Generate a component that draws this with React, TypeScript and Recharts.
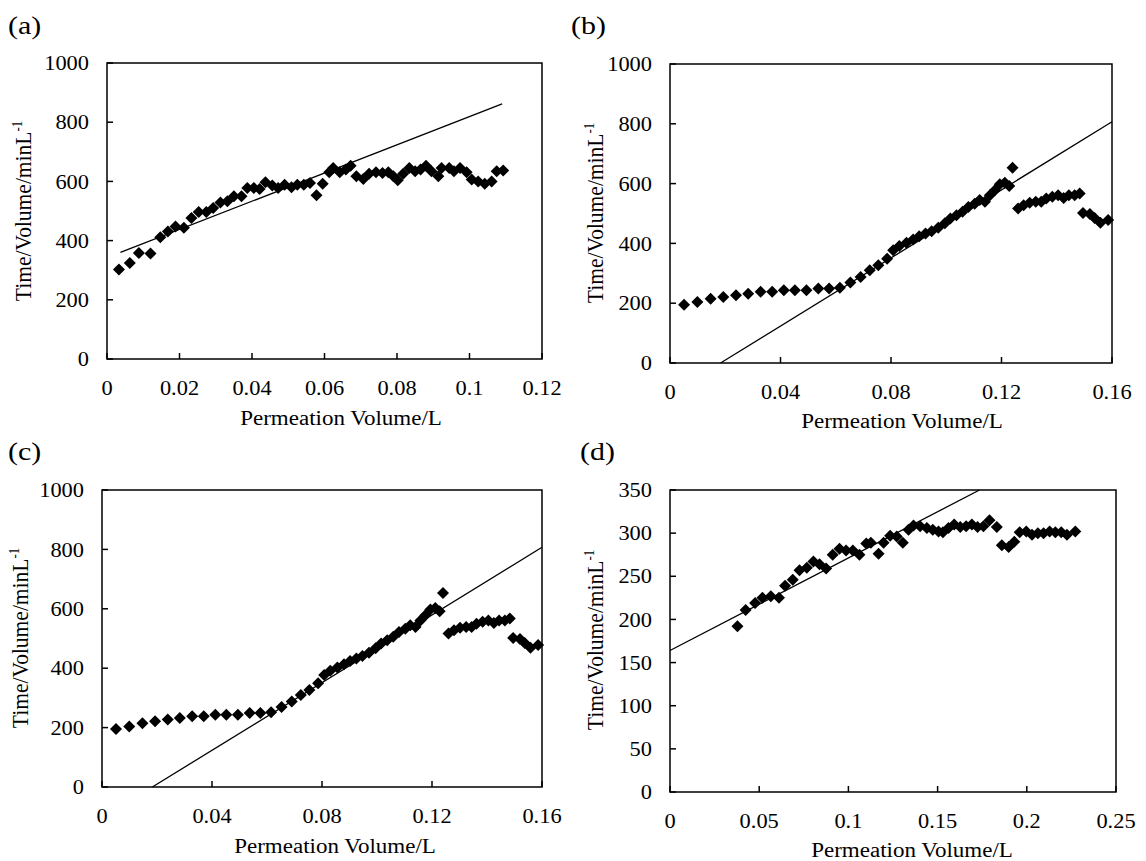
import React from 'react';
import {
  ScatterChart,
  Scatter,
  XAxis,
  YAxis,
  ReferenceLine,
  ReferenceArea,
} from 'recharts';

// panel (a)
const aVolume = [
  0.0033, 0.0063, 0.0088, 0.012, 0.0147, 0.0168, 0.0189, 0.0212, 0.0233, 0.0253,
  0.0274, 0.0293, 0.0313, 0.0332, 0.035, 0.0371, 0.0387, 0.0405, 0.0421, 0.0437,
  0.0456, 0.0472, 0.049, 0.0509, 0.0525, 0.0543, 0.056, 0.0578, 0.0595, 0.0613,
  0.0624, 0.0642, 0.0659, 0.0672, 0.0688, 0.0707, 0.0723, 0.0742, 0.076, 0.0776,
  0.079, 0.0802, 0.0817, 0.0834, 0.085, 0.0865, 0.088, 0.0895, 0.0914, 0.0923,
  0.0944, 0.0957, 0.0974, 0.0992, 0.1006, 0.1024, 0.1042, 0.1061, 0.1075, 0.1093,
];
const aRatio = [
  302, 324, 358, 356, 411, 431, 448, 443, 476, 497,
  497, 510, 529, 533, 550, 550, 578, 578, 574, 597,
  586, 578, 589, 580, 589, 589, 595, 553, 592, 631,
  645, 631, 640, 653, 617, 608, 626, 631, 628, 631,
  617, 604, 626, 645, 634, 640, 653, 634, 617, 645,
  645, 634, 645, 631, 606, 600, 592, 600, 634, 637,
];
const aTrendX = [0.0037, 0.109];
const aTrendY = [360, 862];

// panels (b) and (c) show the same run
const bVolume = [
  0.0051, 0.0099, 0.0147, 0.0193, 0.0239, 0.0283, 0.0328, 0.037, 0.0412, 0.0452,
  0.0494, 0.0537, 0.0576, 0.0615, 0.0653, 0.069, 0.0723, 0.0754, 0.0786, 0.0808,
  0.083, 0.0856, 0.088, 0.0902, 0.0925, 0.0947, 0.0971, 0.0995, 0.1015, 0.1037,
  0.1059, 0.108, 0.1103, 0.1121, 0.114, 0.1158, 0.1176, 0.1194, 0.1212, 0.1228,
  0.124, 0.126, 0.128, 0.1302, 0.1324, 0.1344, 0.1362, 0.1384, 0.1405, 0.1425,
  0.1444, 0.1465, 0.1483, 0.1495, 0.152, 0.1537, 0.1558, 0.1586,
];
const bRatio = [
  195, 204, 215, 221, 227, 232, 238, 238, 243, 243,
  243, 249, 249, 252, 269, 288, 310, 327, 349, 377,
  391, 402, 413, 424, 433, 441, 452, 467, 483, 494,
  506, 522, 533, 545, 539, 561, 578, 598, 603, 592,
  653, 517, 528, 536, 539, 539, 550, 556, 561, 552,
  561, 561, 567, 502, 498, 485, 469, 478,
];
const bTrendX = [0.0183, 0.16];
const bTrendY = [0, 807];

// panel (d)
const dVolume = [
  0.0378, 0.0424, 0.0477, 0.0518, 0.0565, 0.0611, 0.0645, 0.0688, 0.0726, 0.0767,
  0.0804, 0.0838, 0.0875, 0.0912, 0.095, 0.0987, 0.1025, 0.1062, 0.11, 0.1126,
  0.1169, 0.1197, 0.1234, 0.1271, 0.1305, 0.1337, 0.1365, 0.1402, 0.144, 0.1473,
  0.1505, 0.153, 0.1561, 0.1593, 0.1627, 0.166, 0.1692, 0.1724, 0.1757, 0.1791,
  0.1832, 0.186, 0.1898, 0.193, 0.196, 0.1997, 0.2029, 0.2062, 0.2094, 0.2128,
  0.216, 0.2193, 0.2225, 0.2272,
];
const dRatio = [
  192, 211, 219, 225, 227, 225, 239, 246, 257, 260,
  267, 264, 259, 275, 282, 280, 280, 275, 288, 289,
  276, 289, 297, 296, 289, 304, 309, 308, 306, 304,
  302, 301, 306, 310, 307, 308, 310, 307, 308, 315,
  307, 286, 284, 290, 301, 302, 298, 300, 300, 302,
  301, 301, 298, 302,
];
const dTrendX = [0, 0.1735];
const dTrendY = [164, 350];

const xTicks012 = [0, 0.02, 0.04, 0.06, 0.08, 0.1, 0.12];
const xTicks016 = [0, 0.04, 0.08, 0.12, 0.16];
const xTicks025 = [0, 0.05, 0.1, 0.15, 0.2, 0.25];
const yTicks1000 = [0, 200, 400, 600, 800, 1000];
const yTicks350 = [0, 50, 100, 150, 200, 250, 300, 350];

const FONT = '"Liberation Serif", "Times New Roman", serif';
// the source figure is a little wider than tall, text included
const STRETCH = 1.12;

const Diamond = (props: any) => {
  const { cx, cy } = props;
  if (cx == null || cy == null) return null;
  const r = 6;
  return (
    <polygon
      points={`${cx},${cy - r} ${cx + r},${cy} ${cx},${cy + r} ${cx - r},${cy}`}
      fill="#000"
    />
  );
};

const XTick = (props: any) => {
  const { x, y, payload } = props;
  return (
    <text
      transform={`translate(${x},${y}) scale(${STRETCH},1)`}
      textAnchor="middle"
      dy="0.71em"
      fill="#000"
      fontSize={20}
      fontFamily={FONT}
    >
      {String(payload.value)}
    </text>
  );
};

const YTick = (props: any) => {
  const { x, y, payload } = props;
  return (
    <text
      transform={`translate(${x},${y}) scale(${STRETCH},1)`}
      textAnchor="end"
      dy="0.355em"
      fill="#000"
      fontSize={20}
      fontFamily={FONT}
    >
      {String(payload.value)}
    </text>
  );
};

interface PanelProps {
  label: string;
  xs: number[];
  ys: number[];
  trendX: number[];
  trendY: number[];
  xTicks: number[];
  yTicks: number[];
  plot: { left: number; top: number; width: number; height: number };
  labelPos: { x: number; y: number };
  yTitle: { x: number; y: number };
  xTitle: { x: number; y: number };
}

function Panel({ label, xs, ys, trendX, trendY, xTicks, yTicks, plot, labelPos, yTitle, xTitle }: PanelProps) {
  const padL = 70;
  const padT = 15;
  const padR = 30;
  const padB = 50;
  const data = xs.map((x, i) => ({ x, y: ys[i] }));
  const xMax = xTicks[xTicks.length - 1];
  const yMax = yTicks[yTicks.length - 1];

  return (
    <>
      <div
        style={{
          position: 'absolute',
          left: labelPos.x,
          top: labelPos.y,
          fontFamily: FONT,
          fontSize: 26,
          lineHeight: 1,
          transform: 'scaleX(1.15)',
          transformOrigin: 'left top',
        }}
      >
        {label}
      </div>
      <div
        style={{
          position: 'absolute',
          left: plot.left - padL,
          top: plot.top - padT,
        }}
      >
        <ScatterChart
          width={padL + plot.width + padR}
          height={padT + plot.height + padB}
          margin={{ top: padT, right: padR, left: 0, bottom: 0 }}
        >
          <XAxis
            type="number"
            dataKey="x"
            domain={[0, xMax]}
            ticks={xTicks}
            interval={0}
            height={padB}
            axisLine={false}
            tickLine={{ stroke: '#000', strokeWidth: 1.5 }}
            tickSize={-6}
            tickMargin={28}
            tick={<XTick />}
          />
          <YAxis
            type="number"
            dataKey="y"
            domain={[0, yMax]}
            ticks={yTicks}
            interval={0}
            width={padL}
            axisLine={false}
            tickLine={{ stroke: '#000', strokeWidth: 1.5 }}
            tickSize={-6}
            tickMargin={24}
            tick={<YTick />}
          />
          <ReferenceArea
            x1={0}
            x2={xMax}
            y1={0}
            y2={yMax}
            fill="none"
            fillOpacity={0}
            stroke="#000"
            strokeWidth={1.5}
          />
          <ReferenceLine
            segment={[
              { x: trendX[0], y: trendY[0] },
              { x: trendX[1], y: trendY[1] },
            ]}
            stroke="#000"
            strokeWidth={1.3}
          />
          <Scatter data={data} shape={Diamond} isAnimationActive={false} />
        </ScatterChart>
      </div>
      <div
        style={{
          position: 'absolute',
          left: yTitle.x,
          top: yTitle.y,
          transform: `translate(-50%, -50%) rotate(-90deg) scaleY(${STRETCH})`,
          whiteSpace: 'nowrap',
          fontFamily: FONT,
          fontSize: 21.5,
          lineHeight: 1,
        }}
      >
        Time/Volume/minL<sup style={{ fontSize: '0.6em', lineHeight: 0 }}>-1</sup>
      </div>
      <div
        style={{
          position: 'absolute',
          left: xTitle.x,
          top: xTitle.y,
          transform: 'translate(-50%, -50%) scaleX(1.15)',
          whiteSpace: 'nowrap',
          fontFamily: FONT,
          fontSize: 20,
          lineHeight: 1,
        }}
      >
        Permeation Volume/L
      </div>
    </>
  );
}

export default function App() {
  return (
    <div
      style={{
        position: 'absolute',
        left: 0,
        top: 0,
        width: 1146,
        height: 861,
        background: '#fff',
        overflow: 'hidden',
      }}
    >
      <Panel
        label="(a)"
        xs={aVolume}
        ys={aRatio}
        trendX={aTrendX}
        trendY={aTrendY}
        xTicks={xTicks012}
        yTicks={yTicks1000}
        plot={{ left: 107, top: 63, width: 435, height: 296 }}
        labelPos={{ x: 8, y: 13 }}
        yTitle={{ x: 24, y: 211 }}
        xTitle={{ x: 341, y: 418 }}
      />
      <Panel
        label="(b)"
        xs={bVolume}
        ys={bRatio}
        trendX={bTrendX}
        trendY={bTrendY}
        xTicks={xTicks016}
        yTicks={yTicks1000}
        plot={{ left: 670, top: 64, width: 442, height: 299 }}
        labelPos={{ x: 571, y: 13 }}
        yTitle={{ x: 596, y: 213 }}
        xTitle={{ x: 902, y: 421 }}
      />
      <Panel
        label="(c)"
        xs={bVolume}
        ys={bRatio}
        trendX={bTrendX}
        trendY={bTrendY}
        xTicks={xTicks016}
        yTicks={yTicks1000}
        plot={{ left: 102, top: 490, width: 440, height: 297 }}
        labelPos={{ x: 8, y: 439 }}
        yTitle={{ x: 21, y: 638 }}
        xTitle={{ x: 335, y: 846 }}
      />
      <Panel
        label="(d)"
        xs={dVolume}
        ys={dRatio}
        trendX={dTrendX}
        trendY={dTrendY}
        xTicks={xTicks025}
        yTicks={yTicks350}
        plot={{ left: 670, top: 490, width: 446, height: 302 }}
        labelPos={{ x: 580, y: 439 }}
        yTitle={{ x: 596, y: 640 }}
        xTitle={{ x: 912, y: 850 }}
      />
    </div>
  );
}
